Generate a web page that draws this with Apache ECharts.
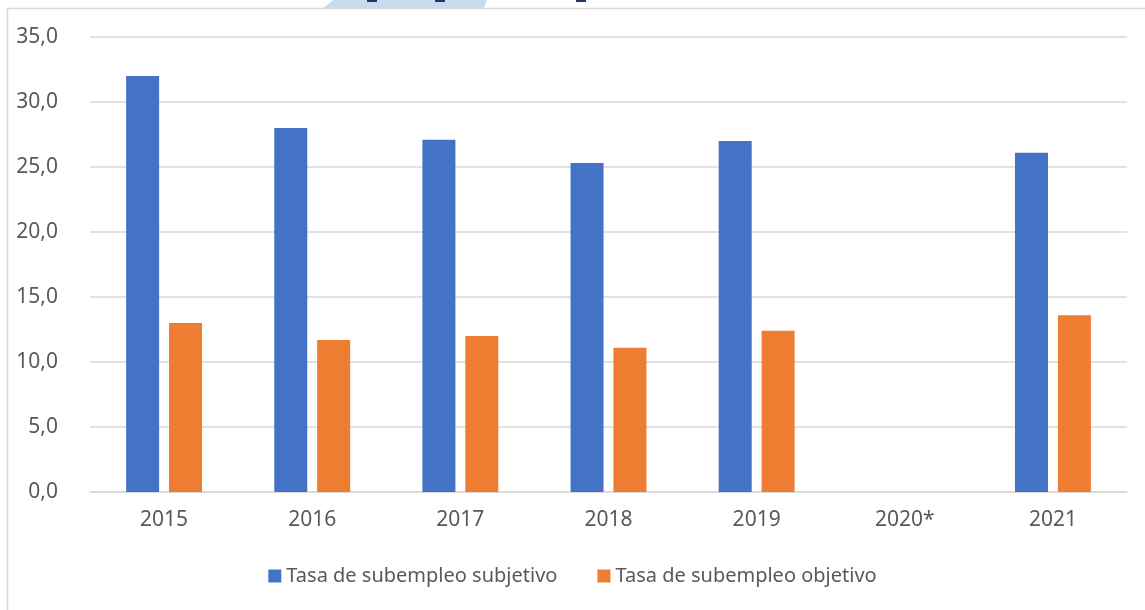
<!DOCTYPE html>
<html>
<head>
<meta charset="utf-8">
<script src="https://cdn.jsdelivr.net/npm/echarts@6/dist/echarts.min.js"></script>
<style>
  html, body { margin: 0; padding: 0; background: #fff; }
  #chart { width: 1145px; height: 610px; }
</style>
</head>
<body>
<div id="chart"></div>
<script>
// data
const years = ['2015', '2016', '2017', '2018', '2019', '2020*', '2021'];
const subjetivo = [32.0, 28.0, 27.1, 25.3, 27.0, null, 26.1];
const objetivo = [13.0, 11.7, 12.0, 11.1, 12.4, null, 13.6];
const seriesNames = ['Tasa de subempleo subjetivo', 'Tasa de subempleo objetivo'];

const font = 'Noto Sans';
const textColor = '#595959';

let chart = echarts.init(document.getElementById('chart'));

chart.setOption({
  animation: false,
  textStyle: { fontFamily: font },
  color: ['#4472c4', '#ed7d31'],
  graphic: [
    // outer chart frame (only top and left edge visible)
    {
      type: 'rect',
      shape: { x: 7.5, y: 8.5, width: 1200, height: 700 },
      style: { fill: 'none', stroke: '#d9d9d9', lineWidth: 1.5 },
      silent: true
    },
    // cropped watermark bits above the frame
    {
      type: 'polygon',
      shape: { points: [[323, 8], [333, 0], [405, 0], [405, 8]] },
      style: { fill: '#c9dcef' },
      silent: true
    },
    {
      type: 'polygon',
      shape: { points: [[400, 8], [400, 0], [487, 0], [484, 8]] },
      style: { fill: '#c9dcef' },
      silent: true
    },
    { type: 'rect', shape: { x: 367, y: 0, width: 10, height: 2 }, style: { fill: '#1f3864' }, silent: true },
    { type: 'rect', shape: { x: 435, y: 0, width: 10, height: 2 }, style: { fill: '#1f3864' }, silent: true },
    { type: 'rect', shape: { x: 576, y: 0, width: 10, height: 2 }, style: { fill: '#1f3864' }, silent: true }
  ],
  grid: {
    left: 90,
    right: 18,
    top: 37,
    bottom: 118,
    containLabel: false
  },
  legend: {
    data: seriesNames,
    bottom: 19,
    left: 'center',
    itemWidth: 13,
    itemHeight: 13,
    itemGap: 40,
    icon: 'rect',
    textStyle: { color: textColor, fontSize: 20, fontFamily: font }
  },
  xAxis: {
    type: 'category',
    data: years,
    axisLine: { lineStyle: { color: '#d9d9d9', width: 1.5 } },
    axisTick: { show: false },
    axisLabel: { color: textColor, fontSize: 21, margin: 18, fontFamily: font }
  },
  yAxis: {
    type: 'value',
    min: 0,
    max: 35,
    interval: 5,
    axisLine: { show: false },
    axisTick: { show: false },
    splitLine: { lineStyle: { color: '#d9d9d9', width: 1.5 } },
    axisLabel: {
      color: textColor,
      fontSize: 21,
      margin: 32,
      fontFamily: font,
      formatter: v => v.toFixed(1).replace('.', ',')
    }
  },
  series: [
    {
      name: seriesNames[0],
      type: 'bar',
      data: subjetivo,
      barWidth: 33,
      barGap: '30%'
    },
    {
      name: seriesNames[1],
      type: 'bar',
      data: objetivo,
      barWidth: 33,
      barGap: '30%'
    }
  ]
});
</script>
</body>
</html>
